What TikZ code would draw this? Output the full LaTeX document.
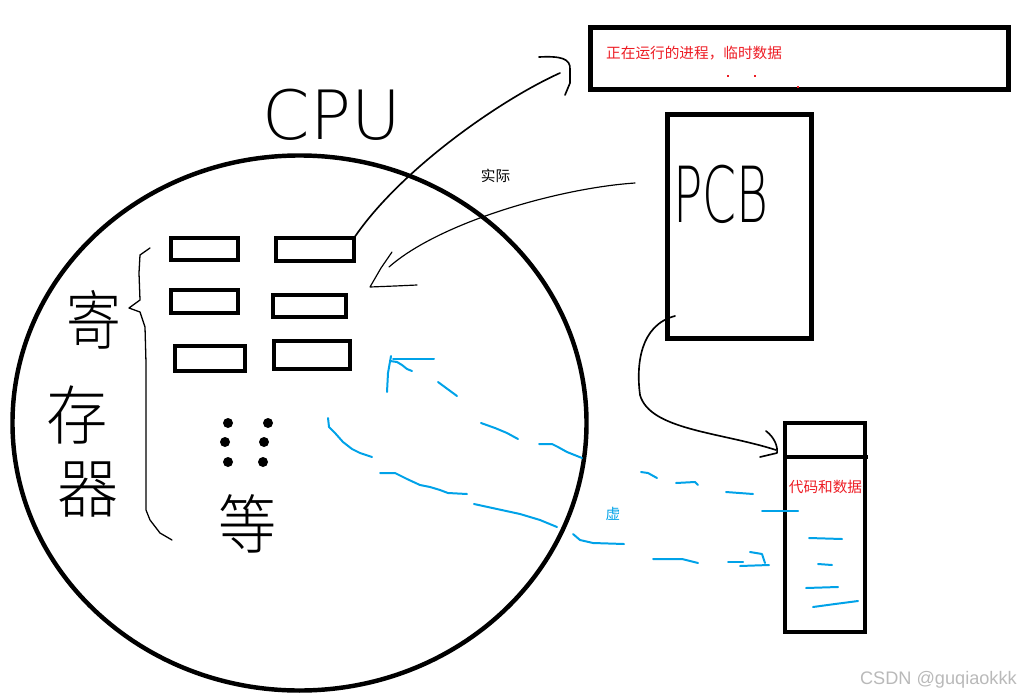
\documentclass[tikz,border=0pt]{standalone}
\usepackage{fontspec}
\usepackage{tikz}
\usetikzlibrary{shapes.geometric}
\newfontfamily\cjk{Noto Sans CJK SC}
\newfontfamily\cjkthin{Noto Sans CJK SC Light}
\newfontfamily\handfont{DejaVu Sans ExtraLight}
\newfontfamily\markfont{Liberation Sans}
\definecolor{paintred}{RGB}{237,28,36}
\definecolor{paintblue}{RGB}{0,162,232}
\definecolor{markgray}{RGB}{185,185,185}

\begin{document}
\begin{tikzpicture}[
  x={(0.03cm,0)}, y={(0,-0.03cm)},
  box/.style={draw, line width=3.6pt, inner sep=0pt, outer sep=0pt},
  reg/.style={box, line width=3.4pt},
  ink/.style={line width=1.4pt, line cap=round, line join=round},
  hand/.style={ink, line width=1.1pt},
  vline/.style={paintblue, line width=1.7pt, line cap=round, line join=round},
  lbl/.style={font=\cjk\fontsize{12.5}{14}\selectfont, inner sep=0pt},
  handcjk/.style={font=\cjkthin\fontsize{55}{72}\selectfont, inner sep=0pt}
]
\useasboundingbox (0,0) rectangle (1021,699);

\node[ellipse, draw, line width=3.8pt, inner sep=0pt, minimum width=17.22cm, minimum height=16.05cm] (cpu) at (299.5,423) {};
\node[font=\handfont\fontsize{58}{58}\selectfont, inner sep=0pt] (cputxt) at (332,115) {CPU};

\node[box, line width=4.25pt, minimum width=12.54cm, minimum height=1.86cm] (proc) at (799.5,58.5) {};
\node[lbl, text=paintred, anchor=west] (proctxt) at (606,53) {正在运行的进程，临时数据};
\fill[paintred] (727,75) rectangle (729,77);
\fill[paintred] (754,75) rectangle (756,77);
\fill[paintred] (797,86) rectangle (799,88);

\node[box, minimum width=4.32cm, minimum height=6.72cm] (pcb) at (739.5,226.5) {};
\node[font=\handfont\fontsize{66}{66}\selectfont, xscale=0.63, inner sep=0pt] (pcbtxt) at (721,194) {PCB};

\node[reg, minimum width=2.01cm, minimum height=0.66cm] (r1) at (204.5,249) {};
\node[reg, minimum width=2.34cm, minimum height=0.69cm] (r2) at (315,249.5) {};
\node[reg, minimum width=2.01cm, minimum height=0.69cm] (r3) at (204.5,301.5) {};
\node[reg, minimum width=2.19cm, minimum height=0.66cm] (r4) at (309.5,306) {};
\node[reg, minimum width=2.10cm, minimum height=0.75cm] (r5) at (210,358.5) {};
\node[reg, minimum width=2.28cm, minimum height=0.84cm] (r6) at (312,355) {};
\foreach \dx/\dy in {228/423, 268/423, 225/442, 264/442, 228/462, 263/462}
  \fill (\dx,\dy) circle[radius=0.15cm];

\node[handcjk, xscale=0.85] (ji) at (94,320) {寄};
\node[handcjk, xscale=0.95] (cun) at (77,415) {存};
\node[handcjk, xscale=0.95] (qi) at (88,490) {器};
\node[handcjk, xscale=0.9] (etc) at (247,524) {等};
\draw[hand] (150,248) -- (140,255) -- (139,273) -- (140,300) -- (129,308) -- (140,312) -- (145,327) -- (146,363) -- (146,510) -- (150,520) -- (160,533) -- (172,540);

\node[box, line width=3.4pt, minimum width=2.4cm, minimum height=6.27cm] (mem) at (825,527.5) {};
\draw[line width=3.4pt] (mem.north west) ++(0,34) -- ++(83,0);
\node[lbl, text=paintred] (memtxt) at (825.5,487) {代码和数据};

\node[lbl] (real) at (495.5,176) {实际};
\node[lbl, text=paintblue] (virt) at (613,514) {虚};

\coordinate (tipA) at (560,73);
\draw[ink] (r2.north east) .. controls (400,170) and (500,100) .. (tipA);
\draw[ink] (539,57) .. controls (560,56) and (571,58) .. (570,70) -- (570,83) -- (565,95);

\coordinate (pcbout) at (635,183);
\coordinate (tipB) at (389,267);
\draw[ink, line width=1pt] (pcbout) .. controls (560,188) and (440,222) .. (tipB);
\draw[ink, line width=1pt] (392,252) -- (381,268) -- (370,287) -- (395,286) -- (417,285);

\coordinate (pcbin) at (675,316);
\coordinate (tipC) at (776,450);
\draw[ink] (pcbin) .. controls (640,325) and (636,365) .. (640,395) .. controls (650,430) and (720,432) .. (tipC);
\draw[ink] (766,431) .. controls (774,437) and (778,446) .. (777,453) -- (760,457);

\draw[vline] (387,392) -- (388,373) -- (391,356);
\draw[vline] (393,359) -- (434,359);
\draw[vline] (390,361) -- (397,362) -- (402,365) -- (407,369) -- (412,371);
\draw[vline] (438,382) -- (457,396);
\draw[vline] (481,423) -- (495,428) -- (507,433) -- (518,439);
\draw[vline] (539,444) -- (552,444) -- (558,447) -- (567,452) -- (582,458);
\draw[vline] (641,472) -- (648,473) -- (657,478);
\draw[vline] (676,483) -- (695,482) -- (698,485);
\draw[vline] (726,492) -- (753,494);
\draw[vline] (762,511) -- (798,511);
\draw[vline] (809,538) -- (842,539);
\draw[vline] (818,564) -- (832,565);
\draw[vline] (806,588) -- (838,587);
\draw[vline] (813,607) -- (835,604) -- (858,601);

\draw[vline] (328,418) -- (329,427) -- (335,433) -- (343,442) -- (352,449) -- (360,453) -- (372,457);
\draw[vline] (380,473) -- (395,473) -- (407,479) -- (420,485) -- (430,487) -- (440,490) -- (448,493) -- (467,494);
\draw[vline] (474,504) -- (497,509) -- (520,514) -- (540,520) -- (557,527);
\draw[vline] (573,534) -- (580,540) -- (593,543) -- (624,544);
\draw[vline] (653,559) -- (682,559) -- (698,563);
\draw[vline] (728,562) -- (743,562);
\draw[vline] (740,566) -- (769,565);
\draw[vline] (750,552) -- (762,554) -- (765,563);

\node[font=\markfont\fontsize{15.5}{16}\selectfont, text=markgray, anchor=east, inner sep=0pt] (mark) at (1017,680) {CSDN @guqiaokkk};
\end{tikzpicture}
\end{document}
